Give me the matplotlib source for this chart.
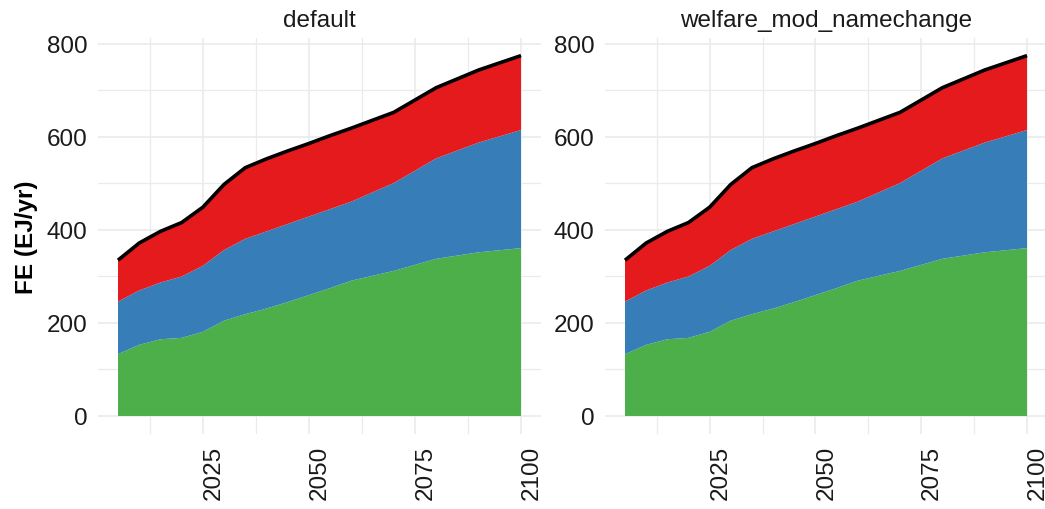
import matplotlib
matplotlib.use("Agg")
import matplotlib.pyplot as plt
import numpy as np

plt.rcParams['font.family'] = ['Liberation Sans', 'DejaVu Sans']

# ---- data ----
scenarios = ["default", "welfare_mod_namechange"]
years = [2005, 2010, 2015, 2020, 2025, 2030, 2035, 2040, 2045, 2050, 2055, 2060, 2070, 2080, 2090, 2100]
series_bottom = [133, 153, 165, 168, 181, 205, 219, 231, 245, 260, 275, 291, 312, 338, 352, 361]
series_middle = [113, 117, 122, 132, 142, 152, 162, 166, 168, 169, 170, 170, 189, 216, 236, 254]
series_top = [89, 102, 110, 116, 126, 141, 153, 156, 157, 157, 158, 158, 152, 152, 156, 160]
series_colors = ["#4DAF4A", "#377EB8", "#E41A1C"]
x_ticks = [2025, 2050, 2075, 2100]
y_ticks = [0, 200, 400, 600, 800]
y_label = "FE (EJ/yr)"

data = {s: [series_bottom, series_middle, series_top] for s in scenarios}

W, H = 1045, 510
fig = plt.figure(figsize=(W / 100, H / 100), dpi=100)

panel_px = [(97.85, 541.15), (604.9, 1047.1)]
top_px, bot_px = 38.6, 435.0
grid_col = "#EBEBEB"
text_col = "#1A1A1A"

for i, scen in enumerate(scenarios):
    l, r = panel_px[i]
    ax = fig.add_axes([l / W, (H - bot_px) / H, (r - l) / W, (bot_px - top_px) / H])
    yrs = np.array(years)
    stacks = [np.array(v) for v in data[scen]]
    ax.stackplot(yrs, *stacks, colors=series_colors, linewidth=0, zorder=2)
    total = np.sum(stacks, axis=0)
    ax.plot(yrs, total, color="black", linewidth=2.6, zorder=3,
            solid_joinstyle="miter", solid_capstyle="butt")
    xr = years[-1] - years[0]
    ax.set_xlim(years[0] - 0.05 * xr, years[-1] + 0.05 * xr)
    ax.set_ylim(-0.05 * 775, 775 * 1.05)
    ax.set_xticks(x_ticks)
    ax.set_xticks([2012.5, 2037.5, 2062.5, 2087.5], minor=True)
    ax.set_yticks(y_ticks)
    ax.set_yticks([100, 300, 500, 700], minor=True)
    ax.grid(True, which="major", color=grid_col, linewidth=1.2, zorder=0)
    ax.grid(True, which="minor", color=grid_col, linewidth=0.9, zorder=0)
    ax.set_axisbelow(True)
    for sp in ax.spines.values():
        sp.set_visible(False)
    ax.tick_params(which="both", length=0)
    ax.tick_params(axis="y", labelsize=17.5, pad=7.5, labelcolor=text_col)
    ax.tick_params(axis="x", labelsize=17.5, pad=8, labelcolor=text_col)
    ax.set_xticklabels([str(t) for t in x_ticks], rotation=90, ha="left", va="top")
    ax.set_title(scen, fontsize=17.5, color=text_col, pad=8)
    if i == 0:
        ax.set_ylabel(y_label, fontsize=17.5, fontweight="bold", labelpad=6, color="black")

fig.savefig("out.png", dpi=100)
